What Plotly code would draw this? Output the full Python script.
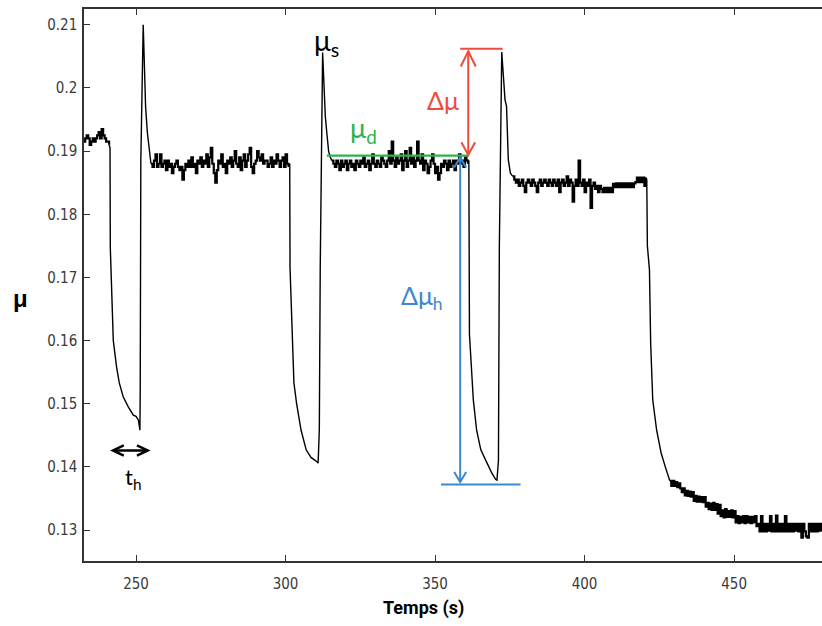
import numpy as np
import plotly.graph_objects as go

# ---------------- data ----------------
# plateau segments: sampled every 0.5 s between start and end time
plateau1_span = (232.5, 241.0)
plateau1_mu = [0.1915, 0.192, 0.1925, 0.192, 0.191, 0.1915, 0.192, 0.1915, 0.192,
               0.1925, 0.193, 0.192, 0.1935, 0.1925, 0.192, 0.1915, 0.1915, 0.191]

drop1_t = [241.0, 241.3, 241.4, 241.9, 242.4, 243.5, 244.4, 245.7, 247.4, 249.1, 250.0, 250.8, 251.1,
           251.3, 251.4, 251.6, 252.4, 252.8, 253.2, 253.8, 254.3, 254.7, 255.0]
drop1_mu = [0.191, 0.1905, 0.1747, 0.166, 0.160, 0.1558, 0.1533, 0.1511, 0.1495, 0.1482, 0.148, 0.1474,
            0.1465, 0.1458, 0.152, 0.1885, 0.21, 0.205, 0.197, 0.1929, 0.1905, 0.189, 0.188]

plateau2_span = (255.0, 301.0)
plateau2_mu = [0.188, 0.1875, 0.1885, 0.1895, 0.1875, 0.188, 0.1895, 0.1875, 0.188, 0.1885,
               0.187, 0.1885, 0.1875, 0.188, 0.1865, 0.1875, 0.188, 0.1885, 0.1875, 0.187,
               0.1875, 0.1855, 0.187, 0.188, 0.1875, 0.1885, 0.1875, 0.189, 0.1875, 0.188,
               0.1865, 0.1885, 0.188, 0.189, 0.1875, 0.1885, 0.188, 0.1895, 0.1875, 0.189,
               0.1905, 0.188, 0.1865, 0.185, 0.187, 0.1885, 0.188, 0.1895, 0.1875, 0.188,
               0.1865, 0.1885, 0.188, 0.189, 0.1875, 0.1885, 0.19, 0.188, 0.1875, 0.189,
               0.187, 0.1885, 0.1895, 0.1875, 0.1885, 0.1895, 0.1905, 0.1875, 0.1865, 0.188,
               0.1885, 0.19, 0.189, 0.1885, 0.1895, 0.188, 0.1885, 0.1885, 0.1875, 0.188,
               0.189, 0.1875, 0.1885, 0.188, 0.1895, 0.1885, 0.1875, 0.1885, 0.189, 0.1875,
               0.1895, 0.188, 0.1875]

drop2_t = [301.0, 301.4, 301.5, 302.1, 302.4, 302.8, 303.7, 305.2, 306.9, 308.5, 310.0, 310.9,
           311.3, 311.6, 312.4, 312.8, 313.3, 313.8, 314.4, 314.9, 315.5]
drop2_mu = [0.1875, 0.188, 0.1715, 0.163, 0.1574, 0.1533, 0.150, 0.1458, 0.1427, 0.1415, 0.141, 0.1406,
            0.146, 0.1715, 0.2056, 0.200, 0.1955, 0.1929, 0.190, 0.1891, 0.1885]

plateau3_span = (315.5, 361.0)
plateau3_mu = [0.1885, 0.188, 0.1875, 0.1885, 0.188, 0.187, 0.1885, 0.1875, 0.188, 0.1885,
               0.187, 0.188, 0.1885, 0.1875, 0.188, 0.187, 0.1885, 0.188, 0.1875, 0.1885,
               0.188, 0.189, 0.1875, 0.188, 0.1885, 0.187, 0.188, 0.1895, 0.188, 0.1875,
               0.1885, 0.188, 0.1875, 0.189, 0.1885, 0.188, 0.1875, 0.1885, 0.19, 0.188,
               0.1915, 0.1885, 0.1875, 0.189, 0.188, 0.1885, 0.1895, 0.187, 0.1885, 0.19,
               0.1875, 0.1885, 0.1905, 0.188, 0.189, 0.1875, 0.1885, 0.1915, 0.1885, 0.188,
               0.1895, 0.187, 0.1885, 0.188, 0.1865, 0.1875, 0.1885, 0.1895, 0.188, 0.1865,
               0.1875, 0.1855, 0.1865, 0.188, 0.1875, 0.1885, 0.188, 0.187, 0.1885, 0.1875,
               0.188, 0.1885, 0.187, 0.1885, 0.188, 0.1895, 0.188, 0.1885, 0.1875, 0.189,
               0.1885, 0.188]

drop3_t = [361.0, 361.3, 361.5, 362.3, 362.8, 363.9, 365.3, 367.4, 369.0, 370.3, 370.7, 371.2, 371.5,
           372.3, 372.8, 373.4, 373.9, 374.5, 375.2, 376.0]
drop3_mu = [0.188, 0.1885, 0.161, 0.1548, 0.1506, 0.1458, 0.1427, 0.1406, 0.139, 0.138, 0.1379, 0.141,
            0.175, 0.2057, 0.2023, 0.1981, 0.1971, 0.1886, 0.1865, 0.186]

plateau4_span = (376.0, 420.5)
plateau4_mu = [0.186, 0.1855, 0.185, 0.1855, 0.1845, 0.185, 0.1855, 0.1845, 0.1835, 0.185,
               0.1855, 0.185, 0.1845, 0.1855, 0.185, 0.1845, 0.1835, 0.185, 0.1855, 0.1845,
               0.185, 0.1855, 0.185, 0.1845, 0.1855, 0.185, 0.1845, 0.1855, 0.185, 0.1845,
               0.1855, 0.1835, 0.185, 0.1855, 0.1845, 0.185, 0.186, 0.1845, 0.1855, 0.185,
               0.182, 0.1845, 0.1855, 0.1845, 0.1885, 0.185, 0.1845, 0.1855, 0.1835, 0.185,
               0.1845, 0.1855, 0.181, 0.1845, 0.185, 0.184, 0.1845, 0.1835, 0.1845, 0.184,
               0.1835, 0.1842, 0.1835, 0.1842, 0.1835, 0.1842, 0.1835, 0.1848, 0.1843, 0.1849,
               0.1843, 0.1849, 0.1843, 0.1849, 0.1843, 0.1849, 0.1843, 0.1849, 0.1843, 0.1849,
               0.1843, 0.1849, 0.1851, 0.1858, 0.1851, 0.1858, 0.1851, 0.1858, 0.1845, 0.1858]

drop4_t = [420.5, 420.8, 421.0, 421.7, 422.1, 422.8, 424.1, 425.6, 427.0, 428.0, 428.5]
drop4_mu = [0.1858, 0.1855, 0.175, 0.1712, 0.1596, 0.1506, 0.1458, 0.1422, 0.140, 0.1385, 0.1378]

tail_span = (428.5, 479.5)
tail_mu = [0.1378, 0.1370, 0.1378, 0.1370, 0.1376, 0.1368, 0.1374, 0.1366, 0.1360, 0.1366,
           0.1355, 0.1362, 0.1354, 0.1361, 0.1353, 0.1360, 0.1346, 0.1354, 0.1345, 0.1353,
           0.1345, 0.1352, 0.1344, 0.1352, 0.1337, 0.1343, 0.1333, 0.1342, 0.1332, 0.1343,
           0.1332, 0.1341, 0.1326, 0.1340, 0.1322, 0.1331, 0.1320, 0.1333, 0.1321, 0.1330,
           0.1321, 0.1331, 0.1320, 0.1330, 0.1312, 0.1322, 0.1311, 0.1321, 0.1312, 0.1322,
           0.1311, 0.1322, 0.1312, 0.1321, 0.1311, 0.1321, 0.1312, 0.1322, 0.1306, 0.1310,
           0.1298, 0.1322, 0.1298, 0.1310, 0.1298, 0.1310, 0.1299, 0.1322, 0.1298, 0.1310,
           0.1298, 0.1323, 0.1298, 0.1310, 0.1298, 0.1310, 0.1298, 0.1322, 0.1298, 0.1310,
           0.1298, 0.1310, 0.1298, 0.1310, 0.1299, 0.1310, 0.1298, 0.1310, 0.1288, 0.1310,
           0.1298, 0.1290, 0.1288, 0.1310, 0.1298, 0.1310, 0.1298, 0.1310, 0.1298, 0.1310,
           0.1299, 0.1310, 0.1298]

x_ticks = [250, 300, 350, 400, 450]
y_ticks = [0.13, 0.14, 0.15, 0.16, 0.17, 0.18, 0.19, 0.2, 0.21]

# annotation reference levels
mu_d_level = 0.1893
mu_s_level = 0.2062
mu_h_level = 0.1372


def sampled(span, vals):
    return list(np.linspace(span[0], span[1], len(vals))), list(vals)


fig = go.Figure()
noisy = [sampled(plateau1_span, plateau1_mu), sampled(plateau2_span, plateau2_mu),
         sampled(plateau3_span, plateau3_mu), sampled(plateau4_span, plateau4_mu),
         sampled(tail_span, tail_mu)]
transitions = [(drop1_t, drop1_mu), (drop2_t, drop2_mu), (drop3_t, drop3_mu), (drop4_t, drop4_mu)]
for tt, mm in noisy:
    fig.add_trace(go.Scatter(x=tt, y=mm, mode="lines",
                             line=dict(color="black", width=2.2, shape="hv"),
                             hoverinfo="skip", showlegend=False))
for tt, mm in transitions:
    fig.add_trace(go.Scatter(x=tt, y=mm, mode="lines",
                             line=dict(color="black", width=1.4),
                             hoverinfo="skip", showlegend=False))

RED = "#ef4b3a"
BLUE = "#3f87cc"
GREEN = "#2db34a"

shapes = []


def line(x0, y0, x1, y1, color, width):
    shapes.append(dict(type="line", xref="x", yref="y", x0=x0, y0=y0, x1=x1, y1=y1,
                       line=dict(color=color, width=width)))


def chevron(xa, ya, direction, color, width, dx, dy):
    if direction == "up":
        p = f"M {xa-dx},{ya-dy} L {xa},{ya} L {xa+dx},{ya-dy}"
    elif direction == "down":
        p = f"M {xa-dx},{ya+dy} L {xa},{ya} L {xa+dx},{ya+dy}"
    elif direction == "left":
        p = f"M {xa+dx},{ya+dy} L {xa},{ya} L {xa+dx},{ya-dy}"
    else:
        p = f"M {xa-dx},{ya+dy} L {xa},{ya} L {xa-dx},{ya-dy}"
    shapes.append(dict(type="path", xref="x", yref="y", path=p,
                       line=dict(color=color, width=width)))


# green mu_d line
line(313.8, mu_d_level, 361.1, mu_d_level, GREEN, 2.2)
# red delta mu
line(358.4, mu_s_level, 372.6, mu_s_level, RED, 2)
line(361.1, mu_s_level - 0.0004, 361.1, mu_d_level + 0.0001, RED, 2)
chevron(361.1, mu_s_level - 0.0004, "up", RED, 2, 2.5, 0.0024)
chevron(361.1, mu_d_level + 0.0001, "down", RED, 2, 2.3, 0.002)
# blue delta mu_h
line(352.0, mu_h_level, 378.6, mu_h_level, BLUE, 2)
line(358.4, mu_d_level - 0.0003, 358.4, mu_h_level + 0.0004, BLUE, 2)
chevron(358.4, mu_d_level - 0.0003, "up", BLUE, 2, 2.0, 0.0016)
chevron(358.4, mu_h_level + 0.0004, "down", BLUE, 2, 2.0, 0.0016)
# t_h double arrow
line(242.3, 0.1426, 253.9, 0.1426, "black", 2.5)
chevron(242.3, 0.1426, "left", "black", 2.5, 3.6, 0.0008)
chevron(253.9, 0.1426, "right", "black", 2.5, 3.6, 0.0008)

LBL = "Lato, 'Open Sans', sans-serif"
annotations = [
    dict(x=313.8, y=0.2073, xref="x", yref="y", showarrow=False,
         text="μ<sub>s</sub>", font=dict(family=LBL, size=28, color="black")),
    dict(x=326.0, y=0.1934, xref="x", yref="y", showarrow=False,
         text="μ<sub>d</sub>", font=dict(family=LBL, size=27, color=GREEN)),
    dict(x=352.7, y=0.1981, xref="x", yref="y", showarrow=False,
         text="Δμ", font=dict(family=LBL, size=25, color=RED)),
    dict(x=345.6, y=0.1669, xref="x", yref="y", showarrow=False,
         text="Δμ<sub>h</sub>", font=dict(family=LBL, size=25, color=BLUE)),
    dict(x=249.0, y=0.1382, xref="x", yref="y", showarrow=False,
         text="t<sub>h</sub>", font=dict(family=LBL, size=22, color="black")),
    dict(x=423, y=608, xref="paper", yref="paper", showarrow=False,
         xanchor="center", yanchor="middle",
         text="<b>Temps (s)</b>",
         font=dict(family="'Liberation Sans Narrow', 'Roboto', Arial, sans-serif", size=18, color="black")),
    dict(x=21, y=298, xref="paper", yref="paper", showarrow=False,
         xanchor="center", yanchor="middle",
         text="<b>μ</b>", font=dict(family="'Liberation Sans', Arial, sans-serif", size=24, color="black")),
]
# convert pixel paper positions for the two axis titles
W, H = 822, 626
ML, MR, MT, MB = 84, 0, 9, 65
pw, ph = W - ML - MR, H - MT - MB
for a in annotations[-2:]:
    a["x"] = (a["x"] - ML) / pw
    a["y"] = (H - MB - a["y"]) / ph

TICKFONT = dict(family="'DejaVu Sans Condensed', Roboto, sans-serif", size=15, color="#3a3a3a")

fig.update_layout(
    width=W, height=H, margin=dict(l=ML, r=MR, t=MT, b=MB, autoexpand=False),
    paper_bgcolor="white", plot_bgcolor="white",
    shapes=shapes, annotations=annotations, showlegend=False,
    xaxis=dict(range=[232.6, 479.4], tickvals=x_ticks, ticks="inside", ticklen=6,
               tickcolor="#333", showline=True, linecolor="#333", linewidth=1.5,
               mirror="ticks", showgrid=False, zeroline=False, tickfont=TICKFONT,
               ticklabelstandoff=8, automargin=False),
    yaxis=dict(range=[0.1251, 0.2125], tickvals=y_ticks, ticks="inside", ticklen=6,
               tickcolor="#333", showline=True, linecolor="#333", linewidth=1.5,
               mirror=False, showgrid=False, zeroline=False, tickfont=TICKFONT,
               ticklabelstandoff=2, automargin=False),
)

fig.write_html("out.html", config={"displayModeBar": False},
               post_script="document.body.style.margin='0px';document.body.style.overflow='hidden';")
